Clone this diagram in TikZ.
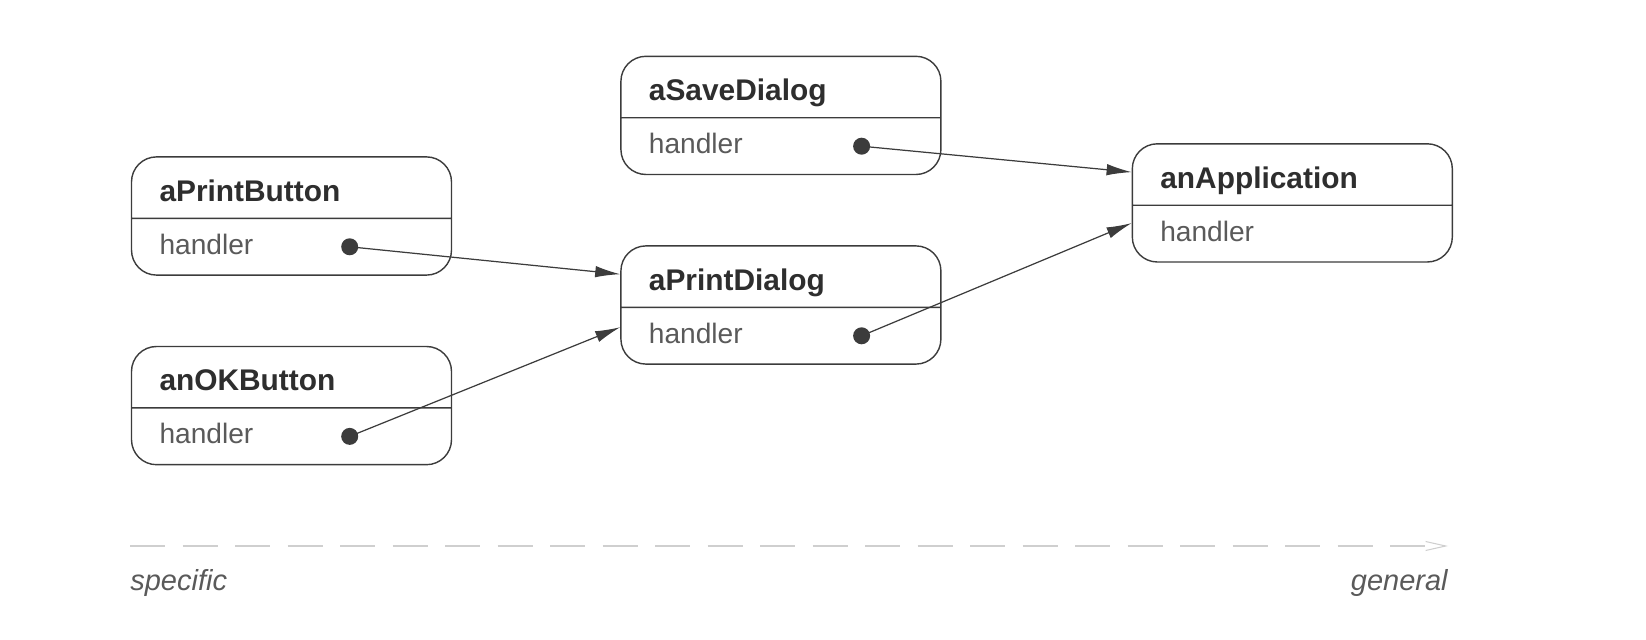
\documentclass[tikz,border=0pt]{standalone}
\usepackage{fontspec}
\setmainfont{Liberation Sans}
\usetikzlibrary{shapes.multipart, arrows.meta, positioning, calc}

\definecolor{inkline}{HTML}{3C3C3C}
\definecolor{inktitle}{HTML}{2E2E2E}
\definecolor{inkfield}{HTML}{5A5A5A}
\definecolor{inkscale}{HTML}{CFCFCF}

\newcommand{\objname}[1]{\raisebox{-0.11cm}{\fontsize{17}{20}\selectfont\bfseries\color{inktitle}#1}}
\newcommand{\slotname}[1]{\raisebox{0.1cm}{\fontsize{16}{19}\selectfont\color{inkfield}#1}}

\tikzstyle{object} = [rectangle split, rectangle split parts=2, draw=inkline, line width=0.8pt, rounded corners=0.5cm, text width=5.28cm, align=left, inner xsep=0.56cm, inner ysep=0.3cm, text height=0.46cm, text depth=0.14cm, fill=white]
\tikzstyle{handlerdot} = [circle, fill=inkline, inner sep=0pt, minimum size=0.34cm]
\tikzstyle{msg} = [line width=0.7pt, inkline, -{Latex[length=0.5cm, width=0.23cm]}]
\tikzstyle{scalebar} = [line width=0.6pt, inkscale, dash pattern=on 0.7cm off 0.35cm, -{Straight Barb[length=0.4cm, width=0.18cm]}]
\tikzstyle{axislabel} = [inner sep=0pt, font=\fontsize{16.5}{20}\selectfont\itshape, text=inkfield]

\begin{document}
\begin{tikzpicture}[node distance=1.4cm and 3.36cm]
	\useasboundingbox (0,0) rectangle (32.92,-12.8);

	% Objects of the chain
	\node (aPrintButton) [object] at (5.83,-4.32) {\objname{aPrintButton} \nodepart{two} \slotname{handler}};
	\node (anOKButton) [object, below=of aPrintButton] {\objname{anOKButton} \nodepart{two} \slotname{handler}};
	\node (aPrintDialog) [object, right=of aPrintButton, yshift=-1.78cm] {\objname{aPrintDialog} \nodepart{two} \slotname{handler}};
	\node (aSaveDialog) [object, above=of aPrintDialog] {\objname{aSaveDialog} \nodepart{two} \slotname{handler}};
	\node (anApplication) [object, right=3.8cm of aSaveDialog, yshift=-1.75cm] {\objname{anApplication} \nodepart{two} \slotname{handler}};

	% Handler dots
	\node (pbHandler) [handlerdot] at ([xshift=-2.05cm, yshift=0.58cm]aPrintButton.south east) {};
	\node (okHandler) [handlerdot] at ([xshift=-2.05cm, yshift=0.58cm]anOKButton.south east) {};
	\node (sdHandler) [handlerdot] at ([xshift=-1.6cm, yshift=0.58cm]aSaveDialog.south east) {};
	\node (pdHandler) [handlerdot] at ([xshift=-1.6cm, yshift=0.58cm]aPrintDialog.south east) {};

	% Successor links
	\draw[msg] (pbHandler.center) -- ([yshift=-0.58cm]aPrintDialog.north west);
	\draw[msg] (okHandler.center) -- ([yshift=-1.64cm]aPrintDialog.north west);
	\draw[msg] (sdHandler.center) -- ([yshift=-0.58cm]anApplication.north west);
	\draw[msg] (pdHandler.center) -- ([yshift=-1.6cm]anApplication.north west);

	% Specific to general
	\coordinate (specEnd) at (2.6,-10.92);
	\coordinate (genEnd) at (28.96,-10.92);
	\draw[scalebar] (specEnd) -- (genEnd);
	\node (specific) [axislabel, below right=0.46cm and 0cm of specEnd] {specific};
	\node (general) [axislabel, below left=0.46cm and 0cm of genEnd] {general};

\end{tikzpicture}
\end{document}
